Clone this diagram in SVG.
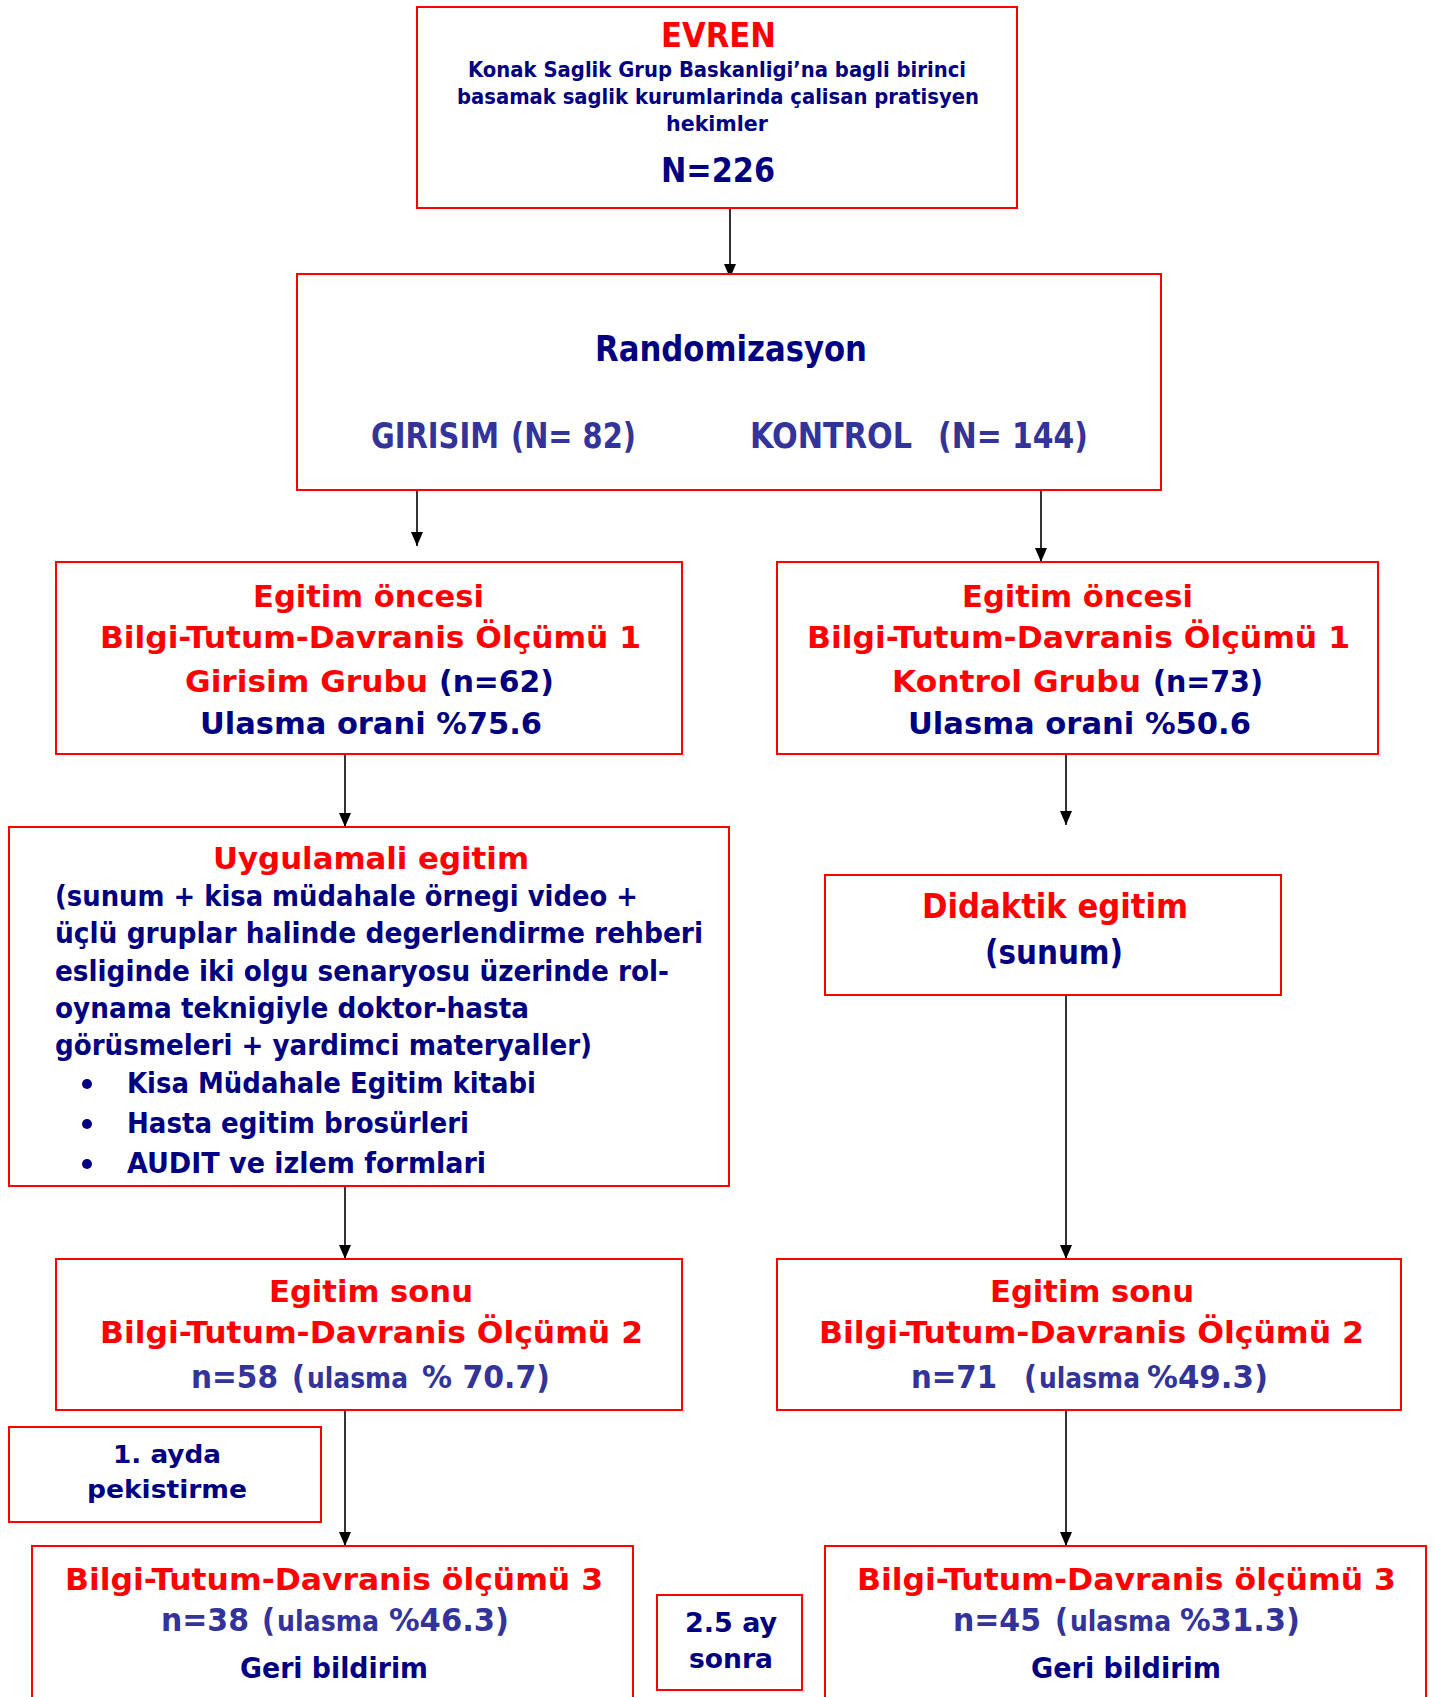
<svg xmlns="http://www.w3.org/2000/svg" width="1436" height="1697" viewBox="0 0 1436 1697">
<style>
.box{fill:#fff;stroke:#f00;stroke-width:2}
text{font-family:"DejaVu Sans Condensed","DejaVu Sans",sans-serif;font-weight:bold}
.r{fill:#f00}.n{fill:#000080}.b{fill:#333399}
.conn line{stroke:#000;stroke-width:1.6;marker-end:url(#ah)}
</style>
<defs>
<marker id="ah" markerUnits="userSpaceOnUse" markerWidth="14" markerHeight="12" refX="14" refY="6" orient="auto" viewBox="0 0 14 12">
<path d="M0,0 L14,6 L0,12 z" fill="#000"/>
</marker>
</defs>
<rect width="1436" height="1697" fill="#fff"/>
<g class="conn">
<line x1="730" y1="208" x2="730" y2="278"/>
<line x1="417" y1="490" x2="417" y2="546"/>
<line x1="1041" y1="490" x2="1041" y2="562"/>
<line x1="345" y1="754" x2="345" y2="827"/>
<line x1="1066" y1="754" x2="1066" y2="825"/>
<line x1="1066" y1="995" x2="1066" y2="1259"/>
<line x1="345" y1="1186" x2="345" y2="1259"/>
<line x1="345" y1="1403" x2="345" y2="1546"/>
<line x1="1066" y1="1403" x2="1066" y2="1546"/>
</g>
<g id="evren">
<rect class="box" x="417" y="7" width="600" height="201"/>
<text class="r" x="661" y="47" font-size="33" textLength="115" lengthAdjust="spacingAndGlyphs">EVREN</text>
<text class="n" x="468" y="77" font-size="21.5" textLength="498" lengthAdjust="spacingAndGlyphs">Konak Saglik Grup Baskanligi’na bagli birinci</text>
<text class="n" x="457" y="104" font-size="21.5" textLength="522" lengthAdjust="spacingAndGlyphs">basamak saglik kurumlarinda çalisan pratisyen</text>
<text class="n" x="666" y="131" font-size="21.5" textLength="102" lengthAdjust="spacingAndGlyphs">hekimler</text>
<text class="n" x="661" y="182" font-size="34" textLength="114" lengthAdjust="spacingAndGlyphs">N=226</text>
</g>
<g id="randomizasyon">
<rect class="box" x="297" y="274" width="864" height="216"/>
<text class="n" x="595" y="361" font-size="35" textLength="272" lengthAdjust="spacingAndGlyphs">Randomizasyon</text>
<text class="b" x="371" y="448" font-size="35" textLength="128" lengthAdjust="spacingAndGlyphs">GIRISIM</text>
<text class="b" x="511" y="448" font-size="35" textLength="125" lengthAdjust="spacingAndGlyphs">(N= 82)</text>
<text class="b" x="750" y="448" font-size="35" textLength="162" lengthAdjust="spacingAndGlyphs">KONTROL</text>
<text class="b" x="938" y="448" font-size="35" textLength="150" lengthAdjust="spacingAndGlyphs">(N= 144)</text>
</g>
<g id="oncesi-girisim">
<rect class="box" x="56" y="562" width="626" height="192"/>
<text class="r" x="253" y="607" font-size="31" textLength="231" lengthAdjust="spacingAndGlyphs">Egitim öncesi</text>
<text class="r" x="100" y="648" font-size="31" textLength="541" lengthAdjust="spacingAndGlyphs">Bilgi-Tutum-Davranis Ölçümü 1</text>
<text class="r" x="185" y="692" font-size="31" textLength="243" lengthAdjust="spacingAndGlyphs">Girisim Grubu</text>
<text class="n" x="439" y="692" font-size="31" textLength="115" lengthAdjust="spacingAndGlyphs">(n=62)</text>
<text class="n" x="200" y="734" font-size="31" textLength="342" lengthAdjust="spacingAndGlyphs">Ulasma orani %75.6</text>
</g>
<g id="oncesi-kontrol">
<rect class="box" x="777" y="562" width="601" height="192"/>
<text class="r" x="962" y="607" font-size="31" textLength="231" lengthAdjust="spacingAndGlyphs">Egitim öncesi</text>
<text class="r" x="807" y="648" font-size="31" textLength="543" lengthAdjust="spacingAndGlyphs">Bilgi-Tutum-Davranis Ölçümü 1</text>
<text class="r" x="892" y="692" font-size="31" textLength="249" lengthAdjust="spacingAndGlyphs">Kontrol Grubu</text>
<text class="n" x="1153" y="692" font-size="31" textLength="110" lengthAdjust="spacingAndGlyphs">(n=73)</text>
<text class="n" x="908" y="734" font-size="31" textLength="343" lengthAdjust="spacingAndGlyphs">Ulasma orani %50.6</text>
</g>
<g id="uygulamali">
<rect class="box" x="9" y="827" width="720" height="359"/>
<text class="r" x="213" y="869" font-size="31" textLength="316" lengthAdjust="spacingAndGlyphs">Uygulamali egitim</text>
<text class="n" x="55" y="906" font-size="27.5" textLength="583" lengthAdjust="spacingAndGlyphs">(sunum + kisa müdahale örnegi video +</text>
<text class="n" x="55" y="943" font-size="27.5" textLength="648" lengthAdjust="spacingAndGlyphs">üçlü gruplar halinde degerlendirme rehberi</text>
<text class="n" x="55" y="981" font-size="27.5" textLength="614" lengthAdjust="spacingAndGlyphs">esliginde iki olgu senaryosu üzerinde rol-</text>
<text class="n" x="55" y="1018" font-size="27.5" textLength="474" lengthAdjust="spacingAndGlyphs">oynama teknigiyle doktor-hasta</text>
<text class="n" x="55" y="1055" font-size="27.5" textLength="537" lengthAdjust="spacingAndGlyphs">görüsmeleri + yardimci materyaller)</text>
<circle class="n" cx="87" cy="1084" r="5"/>
<circle class="n" cx="87" cy="1124" r="5"/>
<circle class="n" cx="87" cy="1164" r="5"/>
<text class="n" x="127" y="1093" font-size="27.5" textLength="409" lengthAdjust="spacingAndGlyphs">Kisa Müdahale Egitim kitabi</text>
<text class="n" x="127" y="1133" font-size="27.5" textLength="342" lengthAdjust="spacingAndGlyphs">Hasta egitim brosürleri</text>
<text class="n" x="127" y="1173" font-size="27.5" textLength="359" lengthAdjust="spacingAndGlyphs">AUDIT ve izlem formlari</text>
</g>
<g id="didaktik">
<rect class="box" x="825" y="875" width="456" height="120"/>
<text class="r" x="922" y="918" font-size="34" textLength="266" lengthAdjust="spacingAndGlyphs">Didaktik egitim</text>
<text class="n" x="985" y="964" font-size="34" textLength="138" lengthAdjust="spacingAndGlyphs">(sunum)</text>
</g>
<g id="sonu-girisim">
<rect class="box" x="56" y="1259" width="626" height="151"/>
<text class="r" x="269" y="1302" font-size="31" textLength="204" lengthAdjust="spacingAndGlyphs">Egitim sonu</text>
<text class="r" x="100" y="1343" font-size="31" textLength="543" lengthAdjust="spacingAndGlyphs">Bilgi-Tutum-Davranis Ölçümü 2</text>
<text class="b" x="191" y="1388" font-size="32" textLength="87" lengthAdjust="spacingAndGlyphs">n=58</text>
<text class="b" x="292" y="1388" font-size="32" textLength="13" lengthAdjust="spacingAndGlyphs">(</text>
<text class="b" x="307" y="1388" font-size="28" textLength="101" lengthAdjust="spacingAndGlyphs">ulasma</text>
<text class="b" x="422" y="1388" font-size="32" textLength="128" lengthAdjust="spacingAndGlyphs">% 70.7)</text>
</g>
<g id="sonu-kontrol">
<rect class="box" x="777" y="1259" width="624" height="151"/>
<text class="r" x="990" y="1302" font-size="31" textLength="204" lengthAdjust="spacingAndGlyphs">Egitim sonu</text>
<text class="r" x="819" y="1343" font-size="31" textLength="545" lengthAdjust="spacingAndGlyphs">Bilgi-Tutum-Davranis Ölçümü 2</text>
<text class="b" x="911" y="1388" font-size="32" textLength="86" lengthAdjust="spacingAndGlyphs">n=71</text>
<text class="b" x="1024" y="1388" font-size="32" textLength="13" lengthAdjust="spacingAndGlyphs">(</text>
<text class="b" x="1039" y="1388" font-size="28" textLength="101" lengthAdjust="spacingAndGlyphs">ulasma</text>
<text class="b" x="1147" y="1388" font-size="32" textLength="121" lengthAdjust="spacingAndGlyphs">%49.3)</text>
</g>
<g id="ayda">
<rect class="box" x="9" y="1427" width="312" height="95"/>
<text class="n" x="113" y="1463" font-size="25" textLength="108" lengthAdjust="spacingAndGlyphs">1. ayda</text>
<text class="n" x="87" y="1498" font-size="25" textLength="160" lengthAdjust="spacingAndGlyphs">pekistirme</text>
</g>
<g id="olcum3-girisim">
<rect class="box" x="32" y="1546" width="601" height="200"/>
<text class="r" x="65" y="1590" font-size="31" textLength="538" lengthAdjust="spacingAndGlyphs">Bilgi-Tutum-Davranis ölçümü 3</text>
<text class="b" x="161" y="1631" font-size="32" textLength="88" lengthAdjust="spacingAndGlyphs">n=38</text>
<text class="b" x="262" y="1631" font-size="32" textLength="13" lengthAdjust="spacingAndGlyphs">(</text>
<text class="b" x="277" y="1631" font-size="28" textLength="102" lengthAdjust="spacingAndGlyphs">ulasma</text>
<text class="b" x="389" y="1631" font-size="32" textLength="120" lengthAdjust="spacingAndGlyphs">%46.3)</text>
<text class="n" x="240" y="1678" font-size="27.5" textLength="188" lengthAdjust="spacingAndGlyphs">Geri bildirim</text>
</g>
<g id="sonra">
<rect class="box" x="657" y="1595" width="145" height="95"/>
<text class="n" x="685" y="1632" font-size="26" textLength="92" lengthAdjust="spacingAndGlyphs">2.5 ay</text>
<text class="n" x="689" y="1668" font-size="26" textLength="84" lengthAdjust="spacingAndGlyphs">sonra</text>
</g>
<g id="olcum3-kontrol">
<rect class="box" x="825" y="1546" width="601" height="200"/>
<text class="r" x="857" y="1590" font-size="31" textLength="539" lengthAdjust="spacingAndGlyphs">Bilgi-Tutum-Davranis ölçümü 3</text>
<text class="b" x="953" y="1631" font-size="32" textLength="88" lengthAdjust="spacingAndGlyphs">n=45</text>
<text class="b" x="1055" y="1631" font-size="32" textLength="13" lengthAdjust="spacingAndGlyphs">(</text>
<text class="b" x="1070" y="1631" font-size="28" textLength="101" lengthAdjust="spacingAndGlyphs">ulasma</text>
<text class="b" x="1180" y="1631" font-size="32" textLength="120" lengthAdjust="spacingAndGlyphs">%31.3)</text>
<text class="n" x="1031" y="1678" font-size="27.5" textLength="190" lengthAdjust="spacingAndGlyphs">Geri bildirim</text>
</g>
</svg>
